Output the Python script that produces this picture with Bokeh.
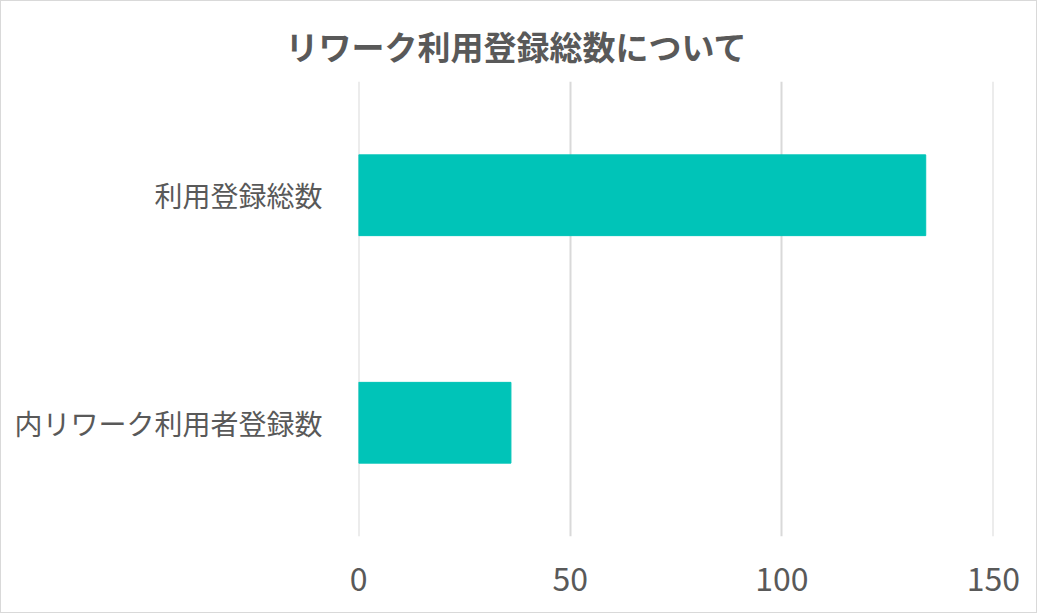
from bokeh.plotting import figure
from bokeh.models import Range1d, FactorRange, FixedTicker, Title, ColumnDataSource
from bokeh.embed import file_html
from bokeh.resources import INLINE

title_text = "リワーク利用登録総数について"
categories = ["内リワーク利用者登録数", "利用登録総数"]
values = [36, 134]
x_ticks = [0, 50, 100, 150]

FONT = "Noto Sans CJK JP"
TEXT_COLOR = "#595959"
BAR_COLOR = "#00C4B8"
GRID_COLOR = "#D9D9D9"

src = ColumnDataSource(dict(cat=categories, val=values))

p = figure(width=1037, height=613, output_backend="svg", toolbar_location=None,
           y_range=FactorRange(factors=categories), x_range=Range1d(-0.01, 150.01),
           min_border_left=357, min_border_right=45, min_border_top=80, min_border_bottom=78,
           title=None)
p.styles = {"border": "1px solid #D9D9D9", "box-sizing": "border-box"}

p.hbar(y="cat", left=0, right="val", height=0.355, source=src, color=BAR_COLOR)

p.outline_line_color = None
p.ygrid.grid_line_color = None
p.xgrid.grid_line_color = GRID_COLOR
p.xgrid.grid_line_width = 2

p.xaxis.ticker = FixedTicker(ticks=x_ticks)
for ax in (p.xaxis[0], p.yaxis[0]):
    ax.axis_line_color = None
    ax.major_tick_line_color = None
    ax.minor_tick_line_color = None
    ax.major_label_text_font = FONT
    ax.major_label_text_color = TEXT_COLOR
p.xaxis.major_label_text_font_size = "32px"
p.xaxis.major_label_standoff = 24
p.yaxis.major_label_text_font_size = "28px"
p.yaxis.major_label_standoff = 30

title = Title(text=title_text, text_font=FONT, text_font_style="bold", text_font_size="33px",
              text_color=TEXT_COLOR, align="left", offset=-73, standoff=23)
p.add_layout(title, "above")

open("out.html", "w").write(file_html(p, INLINE))
